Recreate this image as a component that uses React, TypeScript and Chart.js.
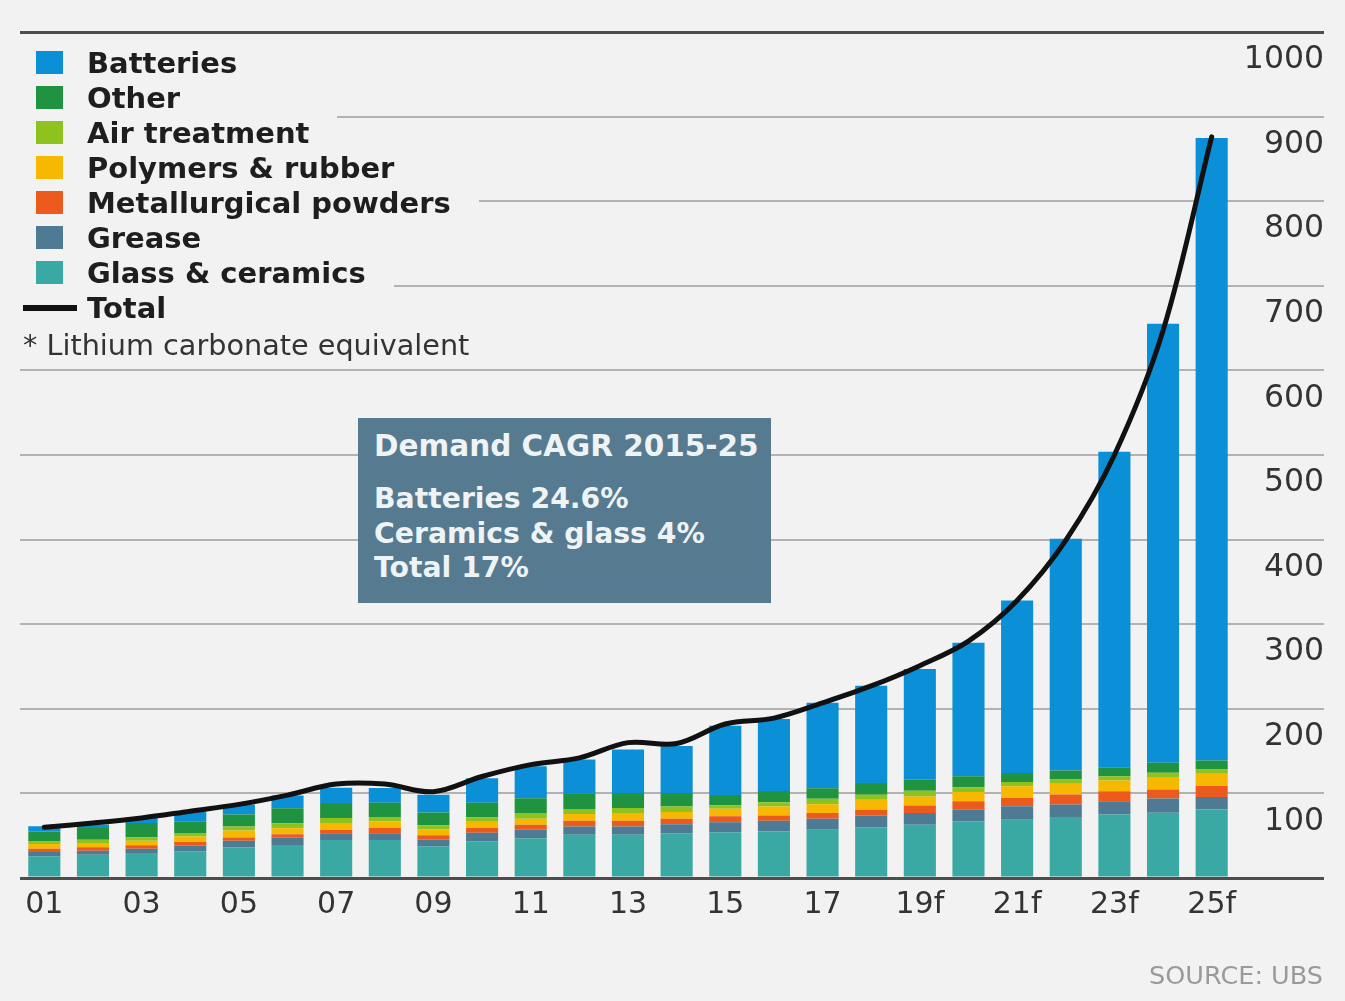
import React, { useEffect, useRef } from "react";
import { Chart, registerables } from "chart.js";

Chart.register(...registerables);

// Lithium demand by end use, thousand tonnes LCE, 2001 to 2025 forecast
const years = [
  "01", "02", "03", "04", "05", "06", "07", "08", "09", "10", "11", "12", "13",
  "14", "15", "16", "17", "18", "19f", "20f", "21f", "22f", "23f", "24f", "25f",
];

const glassCeramics = [
  25.6, 27.6, 29.6, 31.5, 36, 39, 45, 45, 37.5, 43.4, 47, 51, 51, 53, 54, 55, 57, 60, 63, 67, 69, 72, 75, 77, 81,
];
const grease = [
  5, 4.7, 5, 7, 8, 8.7, 8, 8, 8, 10, 10, 10, 10, 10.6, 12, 12.6, 13, 14, 13.8, 13.8, 15.8, 15, 15.8, 17, 14.6,
];
const metallurgicalPowders = [
  4, 4, 4, 4, 4, 4, 4, 6, 5, 6, 6, 6.7, 6.7, 6.3, 7, 6.3, 6.7, 6.7, 9, 9.9, 9.9, 11.8, 11.8, 10.6, 13,
];
const polymersRubber = [
  5.5, 5, 5.5, 6.7, 8, 7, 8, 8, 7, 7, 7, 8, 9, 8, 9, 10.6, 10.6, 11.8, 10.6, 11, 13.8, 12.6, 12.6, 13.8, 14.6,
];
const airTreatment = [
  3, 4, 4, 4, 5, 6, 6, 5, 5, 5.5, 6.7, 6, 6, 6.7, 4, 5, 6.3, 6, 6.7, 5.5, 5, 5, 5, 6, 5,
];
const other = [
  12, 13.8, 17, 13.8, 14, 17.7, 17.7, 17, 15, 17, 17.7, 18.5, 17.7, 15.8, 12, 13.4, 12.6, 13.8, 13, 13, 10.6, 10.6, 10.6, 11.8, 10.6,
];
const batteries = [
  6, 4, 6, 11, 12, 15, 18, 17.5, 21, 29, 37.6, 40, 51.6, 55.6, 82, 85, 101, 115, 131, 158, 204, 274, 373, 519, 736,
];
const total = [
  60, 65, 71, 79, 87, 98, 111, 111, 102, 120, 134, 142, 160, 159, 182, 189, 207, 227, 251, 280, 328, 399, 500, 647, 876,
];

const cagrTitle = "Demand CAGR 2015-25";
const cagrLines = ["Batteries 24.6%", "Ceramics & glass 4%", "Total 17%"];

const FONT = "'DejaVu Sans', sans-serif";
const BG = "#f2f2f2";

// Stacked from the bottom up
const series = [
  { label: "Glass & ceramics", data: glassCeramics, color: "#3aa8a3" },
  { label: "Grease", data: grease, color: "#4f7a94" },
  { label: "Metallurgical powders", data: metallurgicalPowders, color: "#ec5b1d" },
  { label: "Polymers & rubber", data: polymersRubber, color: "#f6b800" },
  { label: "Air treatment", data: airTreatment, color: "#8dc21f" },
  { label: "Other", data: other, color: "#1f9340" },
  { label: "Batteries", data: batteries, color: "#0b8fd6" },
];

export default function App() {
  const canvasRef = useRef<HTMLCanvasElement>(null);

  useEffect(() => {
    const canvas = canvasRef.current;
    if (!canvas) return;
    const chart = new Chart(canvas, {
      type: "bar",
      data: {
        labels: years,
        datasets: [
          {
            type: "line",
            label: "Total",
            data: total,
            borderColor: "#111111",
            borderWidth: 5,
            pointRadius: 0,
            tension: 0.35,
            borderCapStyle: "round",
            order: 0,
          } as any,
          ...series.map((s) => ({
            type: "bar" as const,
            label: s.label,
            data: s.data,
            backgroundColor: s.color,
            borderWidth: 0,
            barPercentage: 0.66,
            categoryPercentage: 1,
            order: 1,
          })),
        ],
      },
      options: {
        responsive: false,
        animation: false,
        devicePixelRatio: 1,
        layout: { padding: { left: 20, right: 21, top: 32, bottom: 77 } },
        plugins: {
          legend: { display: false },
          tooltip: { enabled: false },
        },
        scales: {
          x: {
            stacked: true,
            grid: { display: false },
            border: { display: false },
            ticks: {
              autoSkip: false,
              maxRotation: 0,
              padding: 1,
              color: "#333333",
              font: { family: FONT, size: 30 },
              callback: (_v: any, i: number) => (i % 2 === 0 ? years[i] : ""),
            },
          },
          y: {
            stacked: true,
            position: "right",
            min: 0,
            max: 1000,
            border: { display: false },
            grid: {
              drawTicks: true,
              tickLength: 88,
              color: (ctx: any) =>
                ctx.tick && (ctx.tick.value === 0 || ctx.tick.value === 1000) ? "#4d4d4d" : "#b2b2b2",
              lineWidth: (ctx: any) =>
                ctx.tick && (ctx.tick.value === 0 || ctx.tick.value === 1000) ? 3 : 2,
            },
            ticks: {
              stepSize: 100,
              labelOffset: 28,
              crossAlign: "far",
              padding: 0,
              color: "#333333",
              font: { family: FONT, size: 31.5 },
              callback: (v: any) => (Number(v) === 0 ? "" : String(v)),
            },
            afterFit: (scale: any) => {
              scale.width = 88;
            },
          },
        },
      },
    });
    return () => chart.destroy();
  }, []);

  const legendRows = [...series].reverse();

  return (
    <div
      style={{
        position: "fixed",
        left: 0,
        top: 0,
        width: 1345,
        height: 1001,
        background: BG,
        overflow: "hidden",
        fontFamily: FONT,
      }}
    >
      <canvas ref={canvasRef} width={1345} height={1001} style={{ position: "absolute", left: 0, top: 0 }} />

      <div style={{ position: "absolute", left: 20, top: 45 }}>
        {legendRows.map((s) => (
          <div key={s.label} style={{ height: 35, display: "flex" }}>
            <div
              style={{
                display: "flex",
                alignItems: "center",
                background: BG,
                paddingRight: 28,
                height: 35,
              }}
            >
              <div style={{ width: 27, height: 23, background: s.color, marginLeft: 16, marginRight: 24 }} />
              <span style={{ fontWeight: "bold", fontSize: 29, color: "#1e1e1e", whiteSpace: "nowrap" }}>
                {s.label}
              </span>
            </div>
          </div>
        ))}
        <div style={{ height: 35, display: "flex" }}>
          <div style={{ display: "flex", alignItems: "center", background: BG, paddingRight: 28, height: 35 }}>
            <div style={{ width: 54, height: 6, background: "#111", marginLeft: 3, marginRight: 10 }} />
            <span style={{ fontWeight: "bold", fontSize: 29, color: "#1e1e1e" }}>Total</span>
          </div>
        </div>
        <div style={{ height: 40, display: "flex", alignItems: "center", paddingLeft: 3, paddingTop: 0 }}>
          <span style={{ fontSize: 28.7, color: "#333", whiteSpace: "nowrap" }}>* Lithium carbonate equivalent</span>
        </div>
      </div>

      <div
        style={{
          position: "absolute",
          left: 358,
          top: 418,
          width: 413,
          height: 185,
          background: "#567b90",
          color: "#eef3f6",
          fontWeight: "bold",
        }}
      >
        <div
          style={{
            position: "absolute",
            left: 16,
            top: 11,
            fontSize: 29.5,
            lineHeight: "34px",
            whiteSpace: "nowrap",
          }}
        >
          {cagrTitle}
        </div>
        <div
          style={{
            position: "absolute",
            left: 16,
            top: 64,
            fontSize: 28.3,
            lineHeight: "34.5px",
            whiteSpace: "nowrap",
          }}
        >
          {cagrLines.map((t) => (
            <div key={t}>{t}</div>
          ))}
        </div>
      </div>

      <div
        style={{
          position: "absolute",
          right: 22,
          top: 958,
          fontSize: 25.5,
          lineHeight: "34px",
          color: "#9a9a9a",
          whiteSpace: "nowrap",
        }}
      >
        SOURCE: UBS
      </div>
    </div>
  );
}
